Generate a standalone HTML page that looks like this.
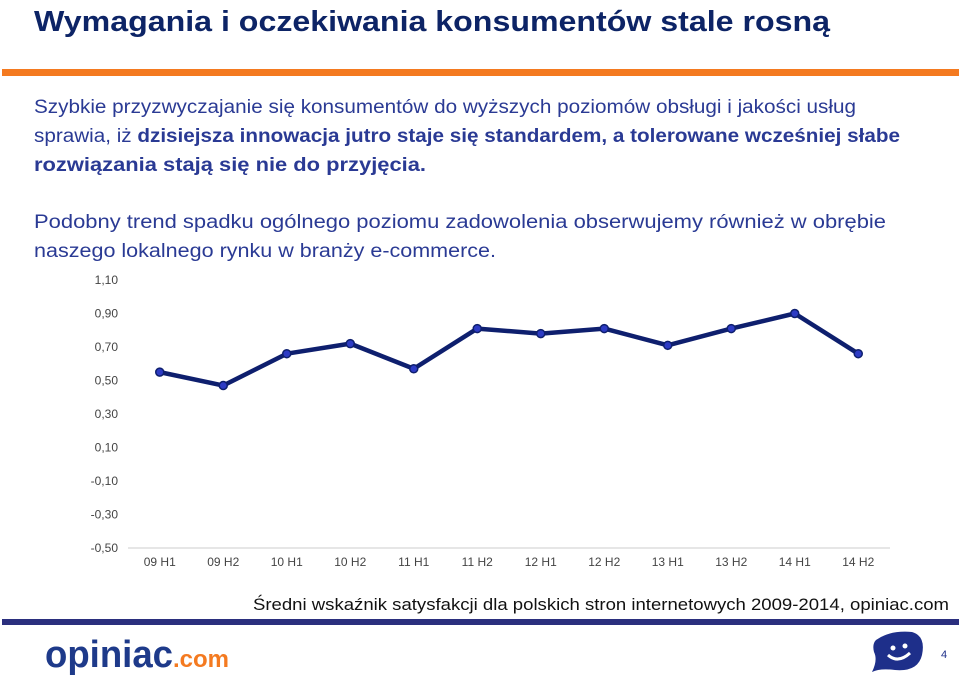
<!DOCTYPE html>
<html><head><meta charset="utf-8">
<style>
html,body{margin:0;padding:0;background:#fff;}
svg{display:block;font-family:"Liberation Sans",sans-serif;}
</style></head>
<body>
<svg width="959" height="676" viewBox="0 0 959 676">
  <text x="34" y="31" font-size="29" font-weight="bold" fill="#0d2466" textLength="796" lengthAdjust="spacingAndGlyphs">Wymagania i oczekiwania konsumentów stale rosną</text>
  <rect x="2" y="69" width="957" height="7" fill="#f47a20"/>
  <g fill="#2a3a94" font-size="19">
    <text x="34" y="113" textLength="822" lengthAdjust="spacingAndGlyphs">Szybkie przyzwyczajanie się konsumentów do wyższych poziomów obsługi i jakości usług</text>
    <text x="34" y="142" textLength="866" lengthAdjust="spacingAndGlyphs">sprawia, iż <tspan font-weight="bold">dzisiejsza innowacja jutro staje się standardem, a tolerowane wcześniej słabe</tspan></text>
    <text x="34" y="171" font-weight="bold" textLength="392" lengthAdjust="spacingAndGlyphs">rozwiązania stają się nie do przyjęcia.</text>
  </g>
  <g fill="#2a3a94" font-size="19">
    <text x="34" y="228" textLength="852" lengthAdjust="spacingAndGlyphs">Podobny trend spadku ogólnego poziomu zadowolenia obserwujemy również w obrębie</text>
    <text x="34" y="257" textLength="462" lengthAdjust="spacingAndGlyphs">naszego lokalnego rynku w branży e-commerce.</text>
  </g>
  <g id="chart"></g>
  <text x="949" y="610" font-size="17" fill="#111" text-anchor="end" textLength="696" lengthAdjust="spacingAndGlyphs">Średni wskaźnik satysfakcji dla polskich stron internetowych 2009-2014, opiniac.com</text>
  <rect x="2" y="619" width="957" height="6" fill="#2b2f7e"/>
  <g>
    <text x="45" y="667" font-size="38" font-weight="bold" fill="#1e3a8a" textLength="128" lengthAdjust="spacingAndGlyphs">opiniac</text>
    <text x="173" y="667" font-size="24" font-weight="bold" fill="#f47a20" textLength="56" lengthAdjust="spacingAndGlyphs">.com</text>
  </g>
  <g>
    <path d="M876 640 Q890 630 912 632 Q926 636 922 655 Q918 672 895 670 Q880 668 872 672 Q878 660 874 652 Q872 644 876 640Z" fill="#1e2f8a"/>
    <circle cx="893" cy="648" r="2.5" fill="#fff"/><circle cx="905" cy="646" r="2.5" fill="#fff"/>
    <path d="M888 655 Q898 664 910 653" stroke="#fff" stroke-width="3" fill="none"/>
  </g>
  <text x="941" y="658" font-size="11" fill="#1e2f8a">4</text>
</svg>
<script>
const categories = ["09 H1","09 H2","10 H1","10 H2","11 H1","11 H2","12 H1","12 H2","13 H1","13 H2","14 H1","14 H2"];
const seriesValues = [0.55,0.47,0.66,0.72,0.57,0.81,0.78,0.81,0.71,0.81,0.90,0.66];
const yTickLabels = ["1,10","0,90","0,70","0,50","0,30","0,10","-0,10","-0,30","-0,50"];
const yTickValues = [1.1,0.9,0.7,0.5,0.3,0.1,-0.1,-0.3,-0.5];
const NS = "http://www.w3.org/2000/svg";
const g = document.getElementById('chart');
const yMin=-0.5,yMax=1.1,yTop=280,yBot=548;
const xLeft=128,xRight=890;
function yScale(v){return yBot-(v-yMin)/(yMax-yMin)*(yBot-yTop);}
function xScale(i){const w=(xRight-xLeft)/categories.length;return xLeft+w*(i+0.5);}
function mk(tag,attrs){const e=document.createElementNS(NS,tag);for(const k in attrs)e.setAttribute(k,attrs[k]);g.appendChild(e);return e;}
yTickLabels.forEach((t,i)=>{
  const e=mk('text',{x:118,y:yScale(yTickValues[i])+4,'font-size':12,fill:'#444','text-anchor':'end'});
  e.textContent=t;
  
  
});
const ax=mk('line',{x1:xLeft,x2:xRight,y1:yBot,y2:yBot,stroke:'#ccc','stroke-width':1});


categories.forEach((c,i)=>{
  const e=mk('text',{x:xScale(i),y:566,'font-size':12,fill:'#444','text-anchor':'middle'});
  e.textContent=c;
  
  
});
const pts=seriesValues.map((v,i)=>xScale(i)+','+yScale(v)).join(' ');
const pl=mk('polyline',{points:pts,fill:'none',stroke:'#0e1f6e','stroke-width':4.5,'stroke-linejoin':'round'});


seriesValues.forEach((v,i)=>{
  const c=mk('circle',{cx:xScale(i),cy:yScale(v),r:4,fill:'#2d3bc4',stroke:'#0e1f6e','stroke-width':1.5});
  
  
});
</script>
</body></html>
